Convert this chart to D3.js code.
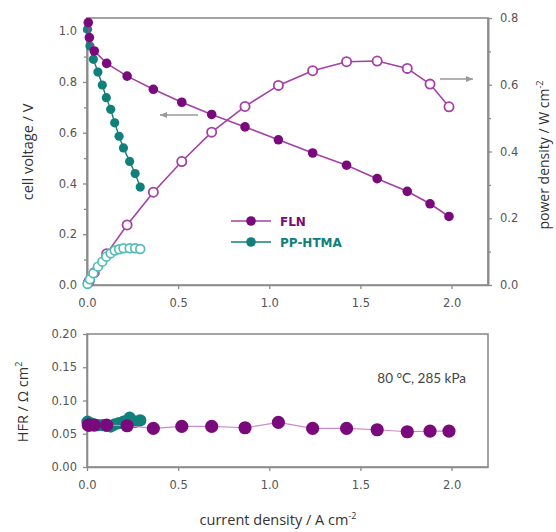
<!DOCTYPE html>
<html><head><meta charset="utf-8">
<script src="https://cdn.jsdelivr.net/npm/d3@7"></script>
<style>body{margin:0;background:#fff;}svg{display:block;}</style>
</head><body>
<svg id="c" width="556" height="532"></svg>
<script>
// ---- data ----
const currentFLN = [0.007,0.013,0.04,0.108,0.22,0.364,0.52,0.684,0.867,1.05,1.238,1.424,1.592,1.757,1.882,1.986];
const voltageFLN = [1.034,0.975,0.922,0.873,0.823,0.771,0.72,0.672,0.623,0.572,0.52,0.472,0.419,0.369,0.32,0.27];
const powerFLN   = [0.007,0.013,0.037,0.094,0.18,0.278,0.37,0.458,0.535,0.598,0.642,0.669,0.671,0.649,0.602,0.534];
const hfrFLN     = [0.063,0.063,0.063,0.063,0.062,0.058,0.061,0.061,0.059,0.067,0.058,0.058,0.056,0.053,0.054,0.054];
const currentPP  = [0.003,0.016,0.035,0.06,0.084,0.106,0.13,0.152,0.176,0.2,0.234,0.264,0.292];
const voltagePP  = [1.008,0.942,0.889,0.839,0.788,0.738,0.692,0.639,0.586,0.54,0.487,0.439,0.386];
const powerPP    = [0.003,0.017,0.035,0.055,0.07,0.085,0.095,0.103,0.107,0.11,0.11,0.11,0.108];
const hfrPP      = [0.068,0.066,0.064,0.063,0.063,0.062,0.061,0.064,0.066,0.068,0.074,0.068,0.07];
const xTicks = [0,0.5,1.0,1.5,2.0];
const vTicks = [0,0.2,0.4,0.6,0.8,1.0];
const vMinor = [0.1,0.3,0.5,0.7,0.9];
const pTicks = [0,0.2,0.4,0.6,0.8];
const pMinor = [0.1,0.3,0.5,0.7];
const hTicks = [0,0.05,0.1,0.15,0.2];
const seriesNames = ["FLN","PP-HTMA"];

// ---- styles ----
const PURPLE = "#7a0a7c", PURPLE_LINE = "#a440a6", TEAL = "#12807a", TEAL_OPEN = "#52bdb4";
const AXIS = "#8c8c8c", LABEL = "#555";

const svg = d3.select("#c");
const x = d3.scaleLinear([0,2.2],[87,488]);
const yV = d3.scaleLinear([0,1.05],[285,18.5]);
const yP = d3.scaleLinear([0,0.8],[285,18]);
const yH = d3.scaleLinear([0,0.2],[467,334]);

function styleAxis(g){
  g.select(".domain").attr("stroke",AXIS).attr("stroke-width",1.6);
  g.selectAll(".tick line").attr("stroke",AXIS).attr("stroke-width",1.3);
  g.selectAll(".tick text").attr("fill",LABEL).style("font-family","DejaVu Sans").style("font-size","11.5px");
}
const f1 = d3.format(".1f"), f2 = d3.format(".2f");

// frames
svg.append("rect").attr("x",87).attr("y",18).attr("width",401).attr("height",267)
  .attr("fill","none").attr("stroke",AXIS).attr("stroke-width",1.6);
svg.append("rect").attr("x",87).attr("y",334).attr("width",401).attr("height",133)
  .attr("fill","none").attr("stroke",AXIS).attr("stroke-width",1.6);

// top axes
svg.append("g").attr("transform","translate(0,285)")
  .call(d3.axisBottom(x).tickValues(xTicks).tickFormat(f1).tickSize(4).tickSizeOuter(0).tickPadding(10)).call(styleAxis);
svg.append("g").attr("transform","translate(87,0)")
  .call(d3.axisLeft(yV).tickValues(vTicks).tickFormat(f1).tickSize(4).tickSizeOuter(0).tickPadding(6)).call(styleAxis);
svg.append("g").attr("transform","translate(87,0)")
  .call(d3.axisLeft(yV).tickValues(vMinor).tickFormat("").tickSize(3).tickSizeOuter(0)).call(styleAxis);
svg.append("g").attr("transform","translate(488,0)")
  .call(d3.axisRight(yP).tickValues(pTicks).tickFormat(f1).tickSize(4).tickSizeOuter(0).tickPadding(8)).call(styleAxis);
svg.append("g").attr("transform","translate(488,0)")
  .call(d3.axisRight(yP).tickValues(pMinor).tickFormat("").tickSize(3).tickSizeOuter(0)).call(styleAxis);

// bottom axes
svg.append("g").attr("transform","translate(0,467)")
  .call(d3.axisBottom(x).tickValues(xTicks).tickFormat(f1).tickSize(4).tickSizeOuter(0).tickPadding(10)).call(styleAxis);
svg.append("g").attr("transform","translate(87,0)")
  .call(d3.axisLeft(yH).tickValues(hTicks).tickFormat(f2).tickSize(4).tickSizeOuter(0).tickPadding(6)).call(styleAxis);

// titles
const tf = "Open Sans";
svg.append("text").attr("transform","translate(33,152) rotate(-90)").attr("text-anchor","middle")
  .style("font-family",tf).style("font-size","14.5px").attr("fill","#333").text("cell voltage / V");
const pt = svg.append("text").attr("transform","translate(549,155) rotate(-90)").attr("text-anchor","middle")
  .style("font-family",tf).style("font-size","14px").attr("fill","#333");
pt.append("tspan").text("power density / W cm");
pt.append("tspan").attr("dy",-6).style("font-size","9px").text("-2");
const ht = svg.append("text").attr("transform","translate(28,402) rotate(-90)").attr("text-anchor","middle")
  .style("font-family",tf).style("font-size","14.5px").attr("fill","#333");
ht.append("tspan").text("HFR / Ω cm");
ht.append("tspan").attr("dy",-6).style("font-size","9px").text("2");
const xt = svg.append("text").attr("x",278).attr("y",525).attr("text-anchor","middle")
  .style("font-family",tf).style("font-size","14.5px").attr("fill","#333");
xt.append("tspan").text("current density / A cm");
xt.append("tspan").attr("dy",-6).style("font-size","9px").text("-2");

svg.append("text").attr("x",466).attr("y",383).attr("text-anchor","end")
  .style("font-family","Lato").style("font-size","13.5px").attr("fill","#444").text("80 °C, 285 kPa");

// arrows
function arrow(x1,x2,y){
  svg.append("line").attr("x1",x1).attr("x2",x2).attr("y1",y).attr("y2",y).attr("stroke","#999").attr("stroke-width",1.5);
  const d = x2 < x1 ? 1 : -1;
  svg.append("path").attr("d",`M${x2},${y} L${x2+d*7},${y-3} L${x2+d*7},${y+3} Z`).attr("fill","#999");
}
arrow(198,160,115);
arrow(440,473,79);

// data helpers
const fln = currentFLN.map((c,i)=>({c,v:voltageFLN[i],p:powerFLN[i],h:hfrFLN[i]}));
const pp = currentPP.map((c,i)=>({c,v:voltagePP[i],p:powerPP[i],h:hfrPP[i]}));
const lineOf = (ys,key) => d3.line().x(d=>x(d.c)).y(d=>ys(d[key]));

// FLN power (open)
svg.append("path").datum(fln).attr("d",lineOf(yP,"p")).attr("fill","none").attr("stroke",PURPLE_LINE).attr("stroke-width",1.6);
svg.append("g").selectAll("circle").data(fln).join("circle").attr("cx",d=>x(d.c)).attr("cy",d=>yP(d.p)).attr("r",4.6)
  .attr("fill","#fff").attr("stroke",PURPLE_LINE).attr("stroke-width",1.8);
// PP power (open)
svg.append("path").datum(pp).attr("d",lineOf(yP,"p")).attr("fill","none").attr("stroke",TEAL_OPEN).attr("stroke-width",1.2);
svg.append("g").selectAll("circle").data(pp).join("circle").attr("cx",d=>x(d.c)).attr("cy",d=>yP(d.p)).attr("r",4.4)
  .attr("fill","#fff").attr("stroke",TEAL_OPEN).attr("stroke-width",1.7);
// PP voltage
svg.append("path").datum(pp).attr("d",lineOf(yV,"v")).attr("fill","none").attr("stroke",TEAL).attr("stroke-width",1.4);
svg.append("g").selectAll("circle").data(pp).join("circle").attr("cx",d=>x(d.c)).attr("cy",d=>yV(d.v)).attr("r",4.6).attr("fill",TEAL);
// FLN voltage
svg.append("path").datum(fln).attr("d",lineOf(yV,"v")).attr("fill","none").attr("stroke",PURPLE_LINE).attr("stroke-width",1.6);
svg.append("g").selectAll("circle").data(fln).join("circle").attr("cx",d=>x(d.c)).attr("cy",d=>yV(d.v)).attr("r",4.8).attr("fill",PURPLE);

// HFR
svg.append("path").datum(pp).attr("d",lineOf(yH,"h")).attr("fill","none").attr("stroke","#7cc5bf").attr("stroke-width",1);
svg.append("g").selectAll("circle").data(pp).join("circle").attr("cx",d=>x(d.c)).attr("cy",d=>yH(d.h)).attr("r",6.2).attr("fill",TEAL);
svg.append("path").datum(fln).attr("d",lineOf(yH,"h")).attr("fill","none").attr("stroke","#c98ac9").attr("stroke-width",1.2);
svg.append("g").selectAll("circle").data(fln).join("circle").attr("cx",d=>x(d.c)).attr("cy",d=>yH(d.h)).attr("r",6.6).attr("fill",PURPLE);

// legend
const legColors = [PURPLE, TEAL], legLine = [PURPLE_LINE, TEAL];
seriesNames.forEach((n,i)=>{
  const y = 221 + i*21;
  svg.append("line").attr("x1",231).attr("x2",271).attr("y1",y).attr("y2",y).attr("stroke",legLine[i]).attr("stroke-width",1.6);
  svg.append("circle").attr("cx",251).attr("cy",y).attr("r",4.8).attr("fill",legColors[i]);
  svg.append("text").attr("x",280).attr("y",y+4.5).style("font-family","DejaVu Sans").style("font-weight","bold")
    .style("font-size","12px").attr("fill",legColors[i]).text(n);
});
</script>
</body></html>
